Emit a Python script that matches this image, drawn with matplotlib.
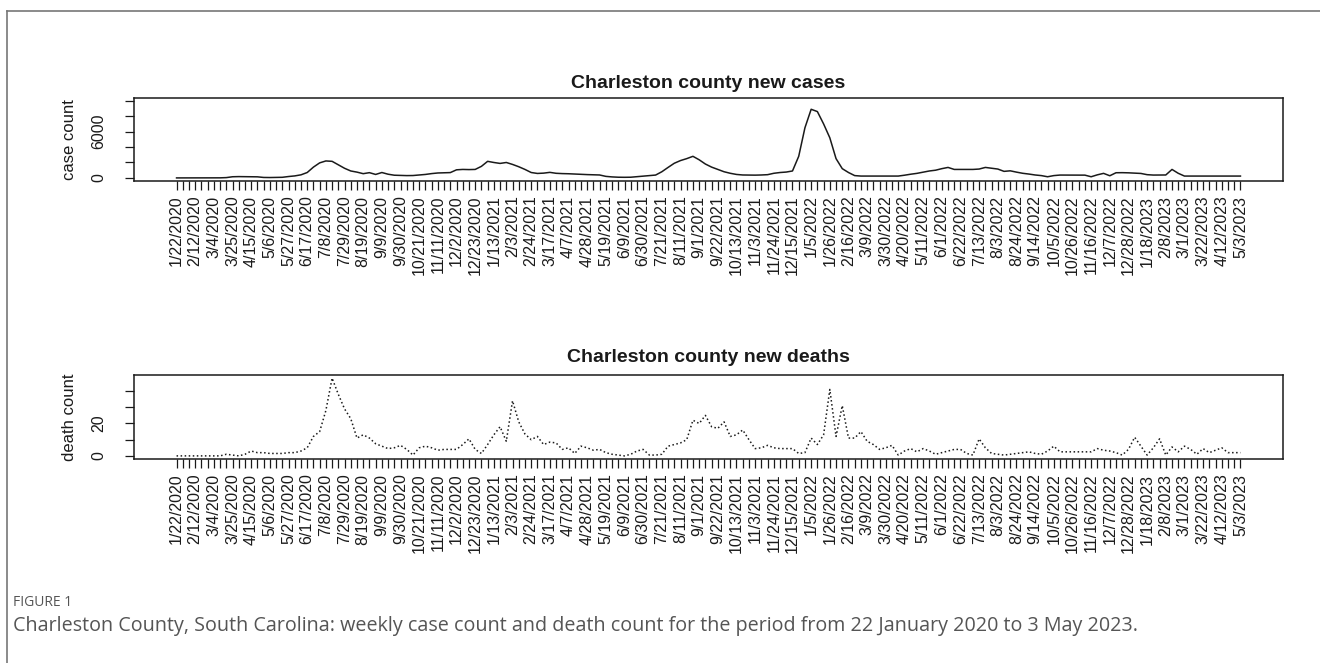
import numpy as np
import pandas as pd
import matplotlib
matplotlib.use('Agg')
import matplotlib.pyplot as plt
from matplotlib.lines import Line2D

matplotlib.rcParams['font.family'] = ['Liberation Sans', 'DejaVu Sans']

# weekly series, 1/22/2020 .. 5/3/2023
WEEKS = pd.date_range('2020-01-22', periods=172, freq='7D')
DATE_LABELS = ['%d/%d/%d' % (d.month, d.day, d.year) for d in WEEKS]

NEW_CASES = [
    0, 0, 0, 0, 0, 0, 0, 10, 40, 150,
    170, 160, 150, 140, 60, 50, 60, 80, 180, 260,
    400, 700, 1400, 1950, 2200, 2150, 1700, 1250, 900, 750,
    550, 680, 450, 700, 480, 350, 330, 300, 310, 380,
    450, 560, 640, 660, 690, 1050, 1100, 1080, 1100, 1500,
    2150, 2000, 1880, 2000, 1750, 1450, 1100, 700, 580, 620,
    720, 600, 560, 540, 500, 460, 430, 400, 380, 200,
    130, 90, 80, 90, 160, 240, 300, 370, 800, 1360,
    1900, 2250, 2500, 2800, 2350, 1800, 1400, 1100, 800, 600,
    450, 380, 370, 360, 380, 420, 600, 700, 760, 900,
    2800, 6500, 8900, 8600, 7000, 5200, 2500, 1200, 700, 300,
    240, 240, 240, 240, 240, 240, 240, 350, 480, 590,
    750, 900, 1000, 1200, 1360, 1100, 1100, 1100, 1100, 1150,
    1360, 1250, 1150, 850, 920, 750, 600, 500, 380, 300,
    150, 300, 370, 370, 370, 370, 360, 150, 400, 590,
    280, 670, 680, 660, 620, 580, 420, 370, 370, 380,
    1100, 600, 240, 240, 240, 240, 240, 240, 240, 240,
    240, 240,
]

NEW_DEATHS = [
    0, 0, 0, 0, 0, 0, 0, 0, 1, 0.5,
    0, 1, 3, 2, 2, 1.5, 1.5, 1.5, 2, 2,
    3, 5, 12, 15, 28, 48, 38, 29, 23, 11,
    13, 11, 7.5, 6, 4.5, 5, 6.5, 4, 0.5, 5,
    6, 5, 3.5, 4, 4, 4, 7, 10.5, 4, 1.5,
    7, 13, 18, 9, 34, 21, 13.5, 10, 12, 7,
    8.5, 8, 4, 5, 1.5, 6, 5, 3.5, 4, 2,
    1, 0.5, 0, 1, 3, 4, 0.5, 0.5, 1, 6,
    7, 8, 10, 22, 20, 25, 18, 17, 21, 12,
    13, 16, 10, 4.5, 5, 6.5, 5, 4.5, 4.5, 4.5,
    1.5, 2, 11, 7, 13, 41, 12, 31, 11, 11,
    15, 9, 7, 4, 5, 6.5, 0.5, 3, 4.5, 2.5,
    4.5, 3, 1, 2, 3, 4, 4, 1.5, 0.5, 10.5,
    5, 1.5, 1, 0.5, 1, 1.5, 2, 2.5, 1.5, 1,
    3, 6, 2.5, 2.5, 2.5, 2.5, 2.5, 2.5, 4.5, 3.5,
    3, 2, 0.5, 4, 11.5, 6, 0.5, 5, 10.5, 0.5,
    5.5, 2.5, 6, 4, 1, 4.5, 2, 3.5, 5, 2,
    2, 2,
]

CASE_TICKS = [0, 2000, 4000, 6000, 8000, 10000]
CASE_TICK_LABELS = ['0', '', '', '6000', '', '']
DEATH_TICKS = [0, 10, 20, 30, 40]
DEATH_TICK_LABELS = ['0', '', '20', '', '']

W, H = 1320, 663
INK = '#1a1a1a'


def fig_rect(left, top, right, bottom):
    """pixel box -> figure fraction rect"""
    return [left / W, 1 - bottom / H, (right - left) / W, (bottom - top) / H]


def r_panel(fig, rect, y, ylim, yticks, ytick_labels, ylabel, title, title_y, ls):
    ax = fig.add_axes(rect)
    x = np.arange(len(y))
    ax.plot(x, y, color=INK, lw=1.1, ls=ls)

    n = len(y) - 1
    ax.set_xlim(-0.04 * n, n * 1.04)
    ax.set_ylim(*ylim)

    # every week gets a tick, every third one a label
    xlabels = [lab if i % 3 == 0 else '' for i, lab in enumerate(DATE_LABELS)]
    ax.set_xticks(x)
    ax.set_xticklabels(xlabels, rotation=90, fontsize=11.5, color=INK)
    ax.set_yticks(yticks)
    ax.set_yticklabels(ytick_labels, rotation=90, va='center', fontsize=11.5, color=INK)
    ax.tick_params(axis='both', length=6.5, width=0.9, color=INK)
    ax.tick_params(axis='x', pad=4)
    ax.tick_params(axis='y', pad=13.5)

    for s in ax.spines.values():
        s.set_linewidth(1.1)
        s.set_color(INK)
    ax.set_ylabel(ylabel, fontsize=12, color=INK, labelpad=10)

    fig.text(rect[0] + rect[2] / 2, 1 - title_y / H, title, ha='center',
             va='center', fontsize=14, fontweight='bold', color=INK)
    return ax


def main():
    fig = plt.figure(figsize=(W / 100, H / 100), dpi=100)

    r_panel(fig, fig_rect(134, 97.7, 1283, 181), NEW_CASES,
            (-400, 10400), CASE_TICKS, CASE_TICK_LABELS,
            'case count', 'Charleston county new cases', 83, '-')
    r_panel(fig, fig_rect(134, 375, 1283, 459), NEW_DEATHS,
            (-1.92, 49.92), DEATH_TICKS, DEATH_TICK_LABELS,
            'death count', 'Charleston county new deaths', 358, ':')

    # page frame
    fig.add_artist(Line2D([7 / W, 7 / W], [0, 1 - 11 / H], transform=fig.transFigure,
                          color='#777777', lw=1.2))
    fig.add_artist(Line2D([7 / W, 1], [1 - 11 / H, 1 - 11 / H], transform=fig.transFigure,
                          color='#777777', lw=1.2))

    fig.text(13 / W, 1 - 602 / H, 'FIGURE 1', family=['Open Sans', 'DejaVu Sans'],
             fontsize=10, fontweight='medium', color='#555555', va='center', ha='left')
    fig.text(13 / W, 1 - 626 / H,
             'Charleston County, South Carolina: weekly case count and death count '
             'for the period from 22 January 2020 to 3 May 2023.',
             family=['Open Sans', 'DejaVu Sans'], fontsize=14.2, color='#555555',
             va='center', ha='left')

    fig.savefig('out.png', dpi=100)
    plt.close(fig)


if __name__ == '__main__':
    main()
